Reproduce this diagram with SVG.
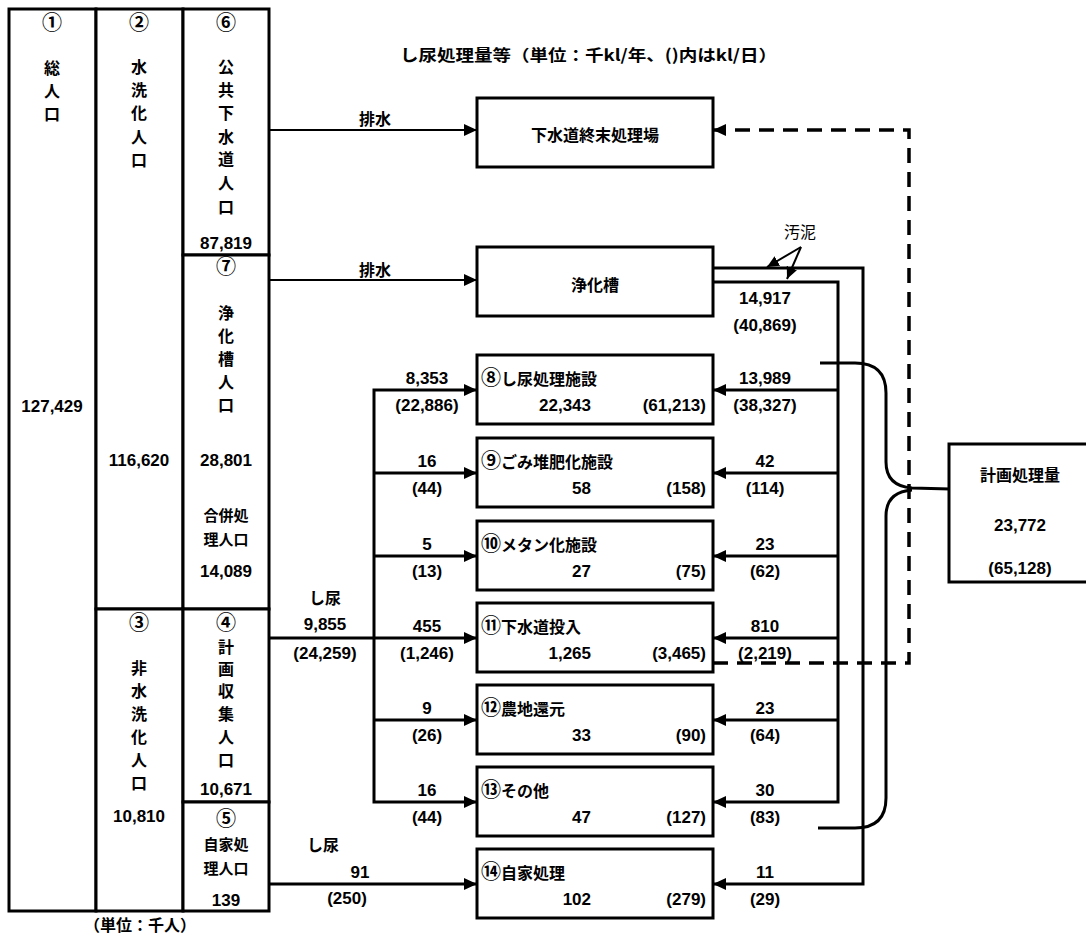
<svg xmlns="http://www.w3.org/2000/svg" width="1086" height="936" viewBox="0 0 1086 936">
<defs>
<style>
.b{fill:#fff;stroke:#000;stroke-width:3}
.l{fill:none;stroke:#000;stroke-width:3}
.l2{fill:none;stroke:#000;stroke-width:2}
.d{fill:none;stroke:#000;stroke-width:3.5;stroke-dasharray:15 9}
.t{font-family:"Noto Sans CJK JP","Liberation Sans",sans-serif;font-weight:bold;font-size:16px;fill:#000}
.n{font-family:"Liberation Sans","Noto Sans CJK JP",sans-serif;font-weight:bold;font-size:17px;fill:#000}
.r{font-family:"Noto Sans CJK JP",sans-serif;font-size:16px;fill:#000}
.k{font-size:20px}
.c{text-anchor:middle}
.e{text-anchor:end}
</style>
<marker id="ah" markerUnits="userSpaceOnUse" markerWidth="13" markerHeight="12" refX="13" refY="6" orient="auto-start-reverse">
<path d="M0,0 L13,6 L0,12 z" fill="#000"/>
</marker>
<marker id="as" markerUnits="userSpaceOnUse" markerWidth="12" markerHeight="11" refX="12" refY="5.5" orient="auto">
<path d="M0,0 L12,5.5 L0,11 z" fill="#000"/>
</marker>
</defs>
<rect width="1086" height="936" fill="#fff"/>

<g id="n1">
<rect x="9" y="9" width="87" height="902" class="b"/>
<text class="t c"><tspan x="52" y="30" class="k">①</tspan><tspan x="52" y="74">総</tspan><tspan x="52" y="97">人</tspan><tspan x="52" y="120">口</tspan></text>
<text x="52" y="412" class="n c">127,429</text>
</g>
<g id="n2">
<rect x="96" y="9" width="87" height="600" class="b"/>
<text class="t c"><tspan x="139" y="30" class="k">②</tspan><tspan x="139" y="73">水</tspan><tspan x="139" y="96">洗</tspan><tspan x="139" y="119">化</tspan><tspan x="139" y="143">人</tspan><tspan x="139" y="166">口</tspan></text>
<text x="139" y="466" class="n c">116,620</text>
</g>
<g id="n6">
<rect x="183" y="9" width="86" height="246" class="b"/>
<text class="t c"><tspan x="226" y="30" class="k">⑥</tspan><tspan x="226" y="73">公</tspan><tspan x="226" y="96">共</tspan><tspan x="226" y="119">下</tspan><tspan x="226" y="143">水</tspan><tspan x="226" y="165">道</tspan><tspan x="226" y="189">人</tspan><tspan x="226" y="213">口</tspan></text>
<text x="226" y="249" class="n c">87,819</text>
</g>
<g id="n7">
<rect x="183" y="255" width="86" height="354" class="b"/>
<text class="t c"><tspan x="226" y="274" class="k">⑦</tspan><tspan x="226" y="319">浄</tspan><tspan x="226" y="342">化</tspan><tspan x="226" y="365">槽</tspan><tspan x="226" y="388">人</tspan><tspan x="226" y="411">口</tspan></text>
<text x="226" y="466" class="n c">28,801</text>
<text class="t c" style="font-size:15px"><tspan x="226" y="521">合併処</tspan><tspan x="226" y="545">理人口</tspan></text>
<text x="226" y="577" class="n c">14,089</text>
</g>
<g id="n3">
<rect x="96" y="609" width="87" height="302" class="b"/>
<text class="t c"><tspan x="139" y="630" class="k">③</tspan><tspan x="139" y="674">非</tspan><tspan x="139" y="697">水</tspan><tspan x="139" y="720">洗</tspan><tspan x="139" y="743">化</tspan><tspan x="139" y="766">人</tspan><tspan x="139" y="789">口</tspan></text>
<text x="139" y="822" class="n c">10,810</text>
</g>
<g id="n4">
<rect x="183" y="609" width="86" height="193" class="b"/>
<text class="t c"><tspan x="226" y="630" class="k">④</tspan><tspan x="226" y="653">計</tspan><tspan x="226" y="675">画</tspan><tspan x="226" y="697">収</tspan><tspan x="226" y="720">集</tspan><tspan x="226" y="743">人</tspan><tspan x="226" y="766">口</tspan></text>
<text x="226" y="795" class="n c">10,671</text>
</g>
<g id="n5">
<rect x="183" y="802" width="86" height="109" class="b"/>
<text class="t c"><tspan x="226" y="826" class="k">⑤</tspan></text>
<text class="t c" style="font-size:15px"><tspan x="226" y="850">自家処</tspan><tspan x="226" y="874">理人口</tspan></text>
<text x="226" y="906" class="n c">139</text>
</g>
<text x="140" y="931" class="t c">（単位：千人）</text>

<text x="400" y="61" class="t" textLength="377" lengthAdjust="spacingAndGlyphs">し尿処理量等（単位：千kl/年、()内はkl/日）</text>

<g id="connectors">
<path d="M269,130 H477" class="l2" marker-end="url(#ah)"/>
<path d="M269,280 H477" class="l2" marker-end="url(#ah)"/>
<path d="M269,638 H477" class="l" marker-end="url(#ah)"/>
<path d="M477,390 H374 V802 H477" class="l" marker-start="url(#ah)" marker-end="url(#ah)"/>
<path d="M374,473 H477" class="l" marker-end="url(#ah)"/>
<path d="M374,556 H477" class="l" marker-end="url(#ah)"/>
<path d="M374,720 H477" class="l" marker-end="url(#ah)"/>
<path d="M269,884 H477" class="l" marker-end="url(#ah)"/>
<path d="M713,282 H838 V802 H713" class="l" marker-end="url(#ah)"/>
<path d="M838,390 H713" class="l" marker-end="url(#ah)"/>
<path d="M838,473 H713" class="l" marker-end="url(#ah)"/>
<path d="M838,556 H713" class="l" marker-end="url(#ah)"/>
<path d="M838,638 H713" class="l" marker-end="url(#ah)"/>
<path d="M838,720 H713" class="l" marker-end="url(#ah)"/>
<path d="M713,268 H863 V884 H713" class="l" marker-end="url(#ah)"/>
<path d="M713,663 H909 V130 H713" class="d" marker-end="url(#ah)"/>
<path d="M820,363 H855 Q886,363 886,393 V462 Q886,486 912,488 L950,489" class="l"/>
<path d="M912,490 Q886,492 886,516 V798 Q886,828 855,828 H818" class="l"/>
<path d="M801,247 L767,267" class="l2" marker-end="url(#as)"/>
<path d="M801,247 L787,279" class="l2" marker-end="url(#as)"/>
<text x="375" y="125" class="t c">排水</text>
<text x="375" y="276" class="t c">排水</text>
<text x="800" y="238" class="r c">汚泥</text>
<text x="765" y="304" class="n c">14,917</text>
<text x="765" y="331" class="n c">(40,869)</text>
<text x="325" y="604" class="t c">し尿</text>
<text x="325" y="630" class="n c">9,855</text>
<text x="325" y="659" class="n c">(24,259)</text>
<text x="323" y="851" class="t c">し尿</text>
<text x="360" y="878" class="n c">91</text>
<text x="347" y="904" class="n c">(250)</text>
<text x="427" y="384" class="n c">8,353</text>
<text x="427" y="411" class="n c">(22,886)</text>
<text x="427" y="467" class="n c">16</text>
<text x="427" y="494" class="n c">(44)</text>
<text x="427" y="550" class="n c">5</text>
<text x="427" y="577" class="n c">(13)</text>
<text x="427" y="632" class="n c">455</text>
<text x="427" y="659" class="n c">(1,246)</text>
<text x="427" y="714" class="n c">9</text>
<text x="427" y="741" class="n c">(26)</text>
<text x="427" y="796" class="n c">16</text>
<text x="427" y="823" class="n c">(44)</text>
<text x="765" y="384" class="n c">13,989</text>
<text x="765" y="411" class="n c">(38,327)</text>
<text x="765" y="467" class="n c">42</text>
<text x="765" y="494" class="n c">(114)</text>
<text x="765" y="550" class="n c">23</text>
<text x="765" y="577" class="n c">(62)</text>
<text x="765" y="632" class="n c">810</text>
<text x="765" y="659" class="n c">(2,219)</text>
<text x="765" y="714" class="n c">23</text>
<text x="765" y="741" class="n c">(64)</text>
<text x="765" y="796" class="n c">30</text>
<text x="765" y="823" class="n c">(83)</text>
<text x="765" y="878" class="n c">11</text>
<text x="765" y="905" class="n c">(29)</text>
</g>

<g id="sewage-plant">
<rect x="477" y="98" width="236" height="69" class="b"/>
<text x="595" y="141" class="t c">下水道終末処理場</text>
</g>
<g id="septic-tank">
<rect x="477" y="247" width="236" height="69" class="b"/>
<text x="595" y="291" class="t c">浄化槽</text>
</g>
<g id="n8">
<rect x="477" y="355" width="236" height="69" class="b"/>
<text x="481" y="385" class="t"><tspan class="k">⑧</tspan>し尿処理施設</text>
<text x="591" y="411" class="n e">22,343</text>
<text x="706" y="411" class="n e">(61,213)</text>
</g>
<g id="n9">
<rect x="477" y="438" width="236" height="69" class="b"/>
<text x="481" y="468" class="t"><tspan class="k">⑨</tspan>ごみ堆肥化施設</text>
<text x="591" y="494" class="n e">58</text>
<text x="706" y="494" class="n e">(158)</text>
</g>
<g id="n10">
<rect x="477" y="521" width="236" height="69" class="b"/>
<text x="481" y="551" class="t"><tspan class="k">⑩</tspan>メタン化施設</text>
<text x="591" y="577" class="n e">27</text>
<text x="706" y="577" class="n e">(75)</text>
</g>
<g id="n11">
<rect x="477" y="603" width="236" height="69" class="b"/>
<text x="481" y="633" class="t"><tspan class="k">⑪</tspan>下水道投入</text>
<text x="591" y="659" class="n e">1,265</text>
<text x="706" y="659" class="n e">(3,465)</text>
</g>
<g id="n12">
<rect x="477" y="685" width="236" height="69" class="b"/>
<text x="481" y="715" class="t"><tspan class="k">⑫</tspan>農地還元</text>
<text x="591" y="741" class="n e">33</text>
<text x="706" y="741" class="n e">(90)</text>
</g>
<g id="n13">
<rect x="477" y="767" width="236" height="69" class="b"/>
<text x="481" y="797" class="t"><tspan class="k">⑬</tspan>その他</text>
<text x="591" y="823" class="n e">47</text>
<text x="706" y="823" class="n e">(127)</text>
</g>
<g id="n14">
<rect x="477" y="849" width="236" height="69" class="b"/>
<text x="481" y="879" class="t"><tspan class="k">⑭</tspan>自家処理</text>
<text x="591" y="905" class="n e">102</text>
<text x="706" y="905" class="n e">(279)</text>
</g>
<g id="planned">
<rect x="949" y="444" width="150" height="138" class="b"/>
<text x="1020" y="481" class="t c">計画処理量</text>
<text x="1020" y="531" class="n c">23,772</text>
<text x="1020" y="574" class="n c">(65,128)</text>
</g>
</svg>
